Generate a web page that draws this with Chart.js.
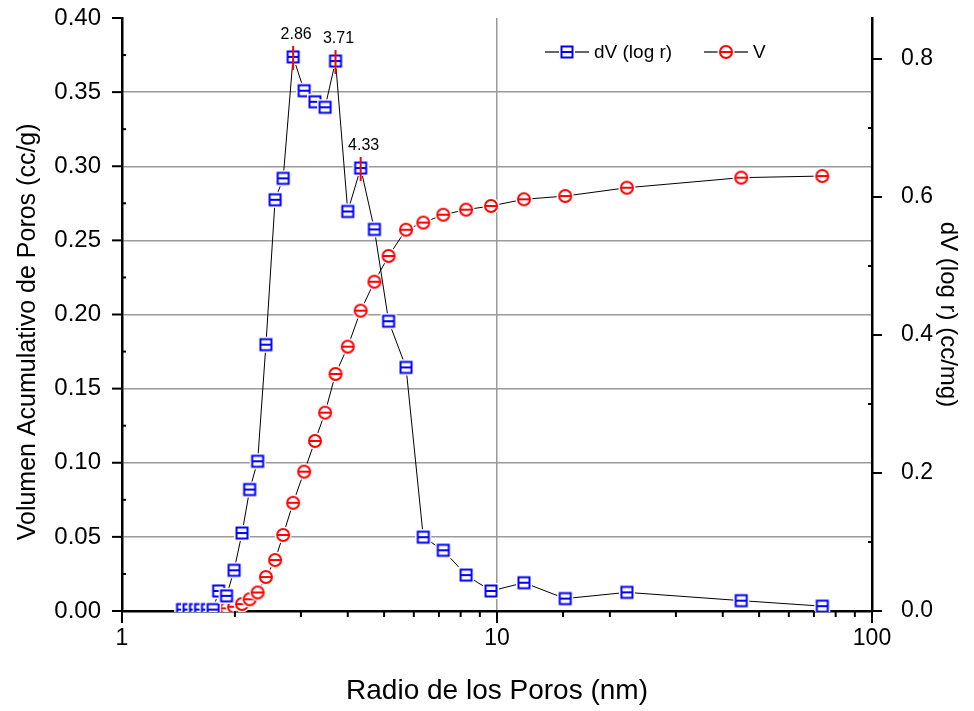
<!DOCTYPE html>
<html>
<head>
<meta charset="utf-8">
<script src="https://cdn.jsdelivr.net/npm/chart.js@4.4.1/dist/chart.umd.min.js"></script>
<style>
  html, body { margin: 0; padding: 0; background: #fff; }
</style>
</head>
<body>
<canvas id="chart" width="974" height="711"></canvas>
<script>
// pore radius (nm)
const radius = [1.45, 1.51, 1.57, 1.62, 1.69, 1.75, 1.81, 1.90, 1.99, 2.09, 2.19, 2.30, 2.42, 2.56, 2.69,
                2.86, 3.06, 3.27, 3.48, 3.71, 4.00, 4.33, 4.71, 5.14, 5.72, 6.36, 7.19, 8.27, 9.64,
                11.8, 15.2, 22.2, 44.8, 73.7];
// dV (log r), cc/mg - right axis
const dV = [0.002, 0.002, 0.002, 0.002, 0.002, 0.002, 0.029, 0.022, 0.059, 0.113, 0.176, 0.217, 0.386, 0.596, 0.627,
            0.803, 0.754, 0.738, 0.730, 0.797, 0.579, 0.642, 0.553, 0.420, 0.353, 0.107, 0.088, 0.052, 0.029,
            0.041, 0.018, 0.027, 0.015, 0.007];
// cumulative volume V, cc/g - left axis
const V = [0.0004, 0.0005, 0.0005, 0.0006, 0.0007, 0.0008, 0.0010, 0.0018, 0.0029, 0.0047, 0.0079, 0.0125, 0.0229, 0.0344, 0.0513,
           0.0730, 0.0940, 0.1147, 0.1338, 0.1599, 0.1783, 0.2026, 0.2221, 0.2395, 0.2572, 0.2620, 0.2673, 0.2707, 0.2732,
           0.2777, 0.2799, 0.2855, 0.2923, 0.2934];
const peakRadius = [2.86, 3.71, 4.33];
const xLabels = [1, 10, 100];

const FONT = "'Liberation Sans', Arial, sans-serif";
const NONE = 'rgba(0,0,0,0)';

function squareMarker(color) {
    const c = document.createElement('canvas');
    c.width = 18; c.height = 18;
    const g = c.getContext('2d');
    g.fillStyle = '#fff';
    g.fillRect(1, 1, 16, 16);
    g.strokeStyle = color;
    g.lineWidth = 2;
    g.strokeRect(3.5, 3.5, 11, 11);
    g.beginPath();
    g.moveTo(3.5, 9); g.lineTo(14.5, 9);
    g.stroke();
    return c;
}

function circleMarker(color) {
    const c = document.createElement('canvas');
    c.width = 18; c.height = 18;
    const g = c.getContext('2d');
    g.fillStyle = '#fff';
    g.beginPath(); g.arc(9, 9, 8.5, 0, Math.PI * 2); g.fill();
    g.strokeStyle = color;
    g.lineWidth = 2;
    g.beginPath(); g.arc(9, 9, 6, 0, Math.PI * 2); g.stroke();
    g.beginPath(); g.moveTo(3, 9); g.lineTo(15, 9); g.stroke();
    return c;
}

const blueSquare = squareMarker('#0000ff');
const redCircle = circleMarker('#ff0000');

// axis tick marks: major outward, minor inward (y) / shorter (x)
const axisTicks = {
    id: 'axisTicks',
    afterDraw(chart) {
        const { ctx, chartArea: a, scales } = chart;
        ctx.save();
        ctx.strokeStyle = '#000';
        ctx.lineWidth = 2;
        const seg = (x1, y1, x2, y2) => { ctx.beginPath(); ctx.moveTo(x1, y1); ctx.lineTo(x2, y2); ctx.stroke(); };

        scales.x.ticks.forEach(t => {
            const px = scales.x.getPixelForValue(t.value);
            seg(px, a.bottom, px, a.bottom + (xLabels.includes(t.value) ? 12 : 6));
        });

        const yTicks = scales.y.ticks.map(t => t.value);
        yTicks.forEach((v, i) => {
            const py = scales.y.getPixelForValue(v);
            seg(a.left - 10, py, a.left, py);
            if (i > 0) {
                const pm = scales.y.getPixelForValue((v + yTicks[i - 1]) / 2);
                seg(a.left, pm, a.left + 4, pm);
            }
        });

        const rTicks = scales.y1.ticks.map(t => t.value);
        rTicks.forEach((v, i) => {
            const py = scales.y1.getPixelForValue(v);
            seg(a.right, py, a.right + 10, py);
            if (i > 0) {
                const pm = scales.y1.getPixelForValue((v + rTicks[i - 1]) / 2);
                seg(a.right - 4, pm, a.right, pm);
            }
        });
        ctx.restore();
    }
};

// peak markers and labels on the dV curve
const peakLabels = {
    id: 'peakLabels',
    afterDatasetsDraw(chart) {
        const { ctx } = chart;
        const meta = chart.getDatasetMeta(0);
        ctx.save();
        ctx.strokeStyle = '#ff0000';
        ctx.lineWidth = 2;
        ctx.fillStyle = '#000';
        ctx.font = '16px ' + FONT;
        ctx.textAlign = 'center';
        ctx.textBaseline = 'middle';
        peakRadius.forEach(r => {
            const pt = meta.data[radius.indexOf(r)];
            ctx.beginPath();
            ctx.moveTo(pt.x, pt.y - 11);
            ctx.lineTo(pt.x, pt.y + 13);
            ctx.stroke();
            ctx.fillText(r.toFixed(2), pt.x + 3, pt.y - 22);
        });
        ctx.restore();
    }
};

// legend: line + symbol + text
const lineLegend = {
    id: 'lineLegend',
    afterDraw(chart) {
        const { ctx } = chart;
        const items = [
            { x: 545, marker: blueSquare, text: chart.data.datasets[0].label },
            { x: 704, marker: redCircle, text: chart.data.datasets[1].label }
        ];
        const y = 52;
        ctx.save();
        ctx.font = '19px ' + FONT;
        ctx.textBaseline = 'middle';
        ctx.fillStyle = '#000';
        items.forEach(it => {
            ctx.strokeStyle = '#333';
            ctx.lineWidth = 1.5;
            ctx.beginPath();
            ctx.moveTo(it.x, y); ctx.lineTo(it.x + 44, y);
            ctx.stroke();
            ctx.drawImage(it.marker, it.x + 22 - 9, y - 9);
            ctx.fillText(it.text, it.x + 49, y + 1);
        });
        ctx.restore();
    }
};

new Chart(document.getElementById('chart'), {
    type: 'line',
    data: {
        datasets: [
            {
                label: 'dV (log r)',
                data: radius.map((r, i) => ({ x: r, y: dV[i] })),
                yAxisID: 'y1',
                borderColor: '#000',
                borderWidth: 1,
                pointStyle: blueSquare,
                pointRadius: 9,
                clip: { left: 0, right: 0, top: 20, bottom: 1 }
            },
            {
                label: 'V',
                data: radius.map((r, i) => ({ x: r, y: V[i] })),
                yAxisID: 'y',
                borderColor: '#000',
                borderWidth: 1,
                pointStyle: redCircle,
                pointRadius: 9,
                clip: { left: 0, right: 0, top: 20, bottom: 1 }
            }
        ]
    },
    options: {
        responsive: false,
        animation: false,
        devicePixelRatio: 1,
        layout: { padding: { top: 18, left: 0, right: 0, bottom: 0 } },
        plugins: { legend: { display: false }, tooltip: { enabled: false } },
        scales: {
            x: {
                type: 'logarithmic',
                min: 1,
                max: 100,
                afterFit(s) { s.height = 100; },
                border: { display: true, color: '#000', width: 2.5 },
                grid: {
                    drawTicks: false,
                    lineWidth: 1.5,
                    color: c => c.tick && c.tick.value === 10 ? '#9a9a9a' : NONE
                },
                ticks: {
                    autoSkip: false,
                    maxRotation: 0,
                    padding: 14,
                    color: '#000',
                    font: { family: FONT, size: 23 },
                    callback: v => xLabels.includes(v) ? String(v) : ''
                },
                title: {
                    display: true,
                    text: 'Radio de los Poros (nm)',
                    color: '#000',
                    font: { family: FONT, size: 28 },
                    padding: { top: 0, bottom: 3 }
                }
            },
            y: {
                position: 'left',
                min: 0,
                max: 0.4,
                afterFit(s) { s.width = 122; },
                border: { display: true, color: '#000', width: 2.5 },
                grid: {
                    drawTicks: true,
                    tickLength: 18,
                    tickColor: NONE,
                    lineWidth: 1.5,
                    color: c => c.tick && c.tick.value > 0.001 && c.tick.value < 0.399 ? '#9a9a9a' : NONE
                },
                ticks: {
                    stepSize: 0.05,
                    padding: 3,
                    color: '#000',
                    font: { family: FONT, size: 24 },
                    callback: v => v.toFixed(2)
                },
                title: {
                    display: true,
                    text: 'Volumen Acumulativo de Poros (cc/g)     ',
                    color: '#000',
                    font: { family: FONT, size: 25 },
                    padding: { top: 13, bottom: 0 }
                }
            },
            y1: {
                position: 'right',
                min: 0,
                max: 0.8594,
                afterFit(s) { s.width = 102; },
                border: { display: true, color: '#000', width: 2.5 },
                grid: { drawOnChartArea: false, drawTicks: true, tickLength: 26, tickColor: NONE },
                ticks: {
                    stepSize: 0.2,
                    includeBounds: false,
                    padding: 3,
                    color: '#000',
                    font: { family: FONT, size: 23 },
                    callback: v => v.toFixed(1)
                },
                title: {
                    display: true,
                    text: 'dV (log r) (cc/mg)',
                    color: '#000',
                    font: { family: FONT, size: 24 },
                    padding: { top: 12, bottom: 0 }
                }
            }
        }
    },
    plugins: [axisTicks, peakLabels, lineLegend]
});
</script>
</body>
</html>
